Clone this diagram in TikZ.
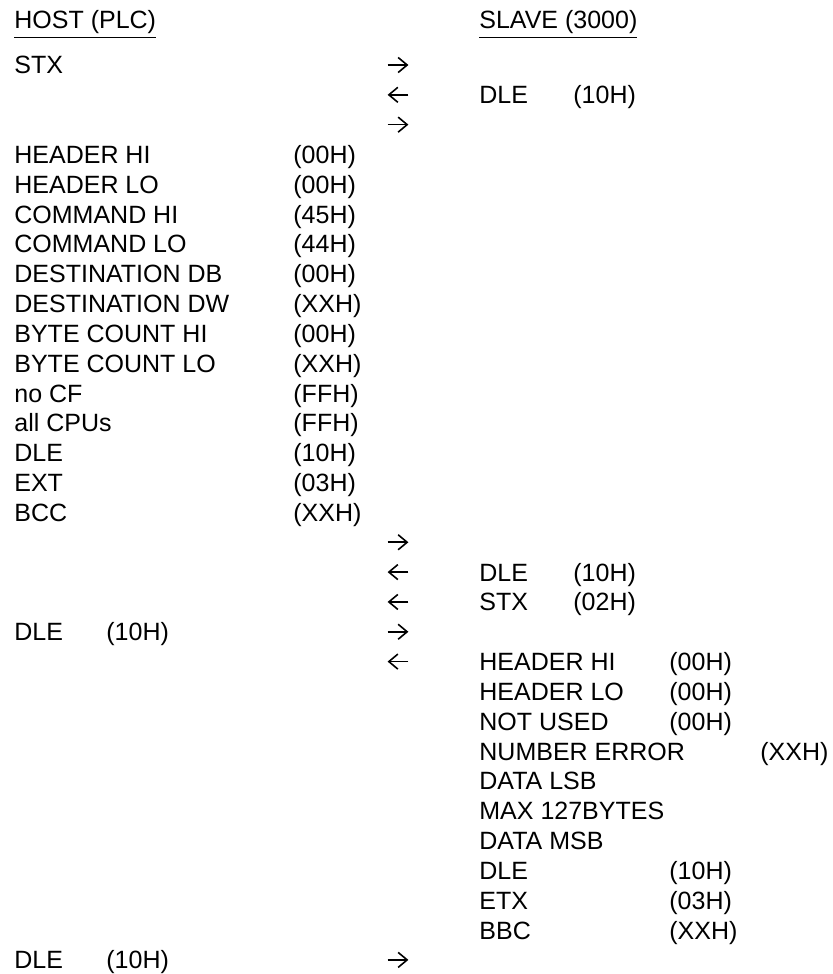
\documentclass[tikz,border=0pt]{standalone}
\usepackage{fontspec}
\setmainfont{Liberation Sans}
\usetikzlibrary{arrows.meta}
\begin{document}
\begin{tikzpicture}[x=0.5pt,y=-0.5pt,
	txt/.style={anchor=base west,inner sep=0pt,font=\fontsize{12.5}{15}\selectfont},
	arrowbox/.style={inner sep=0pt,minimum width=10pt,minimum height=8pt},
	msg/.style={line width=0.8pt,-{Straight Barb[length=4.5pt,width=7.5pt,line width=0.8pt]}}]
	\useasboundingbox (0,0) rectangle (832,974);
	% headings
	\node[txt] (host) at (14,29) {\underline{HOST (PLC)}};
	\node[txt] (slave) at (479,29) {\underline{SLAVE (3000)}};
	% host side
	\node[txt] (hstx) at (14,{74+29.83*0}) {STX};
	\foreach \n/\name/\val in {3/HEADER HI/00H, 4/HEADER LO/00H, 5/COMMAND HI/45H,
		6/COMMAND LO/44H, 7/DESTINATION DB/00H, 8/DESTINATION DW/XXH,
		9/BYTE COUNT HI/00H, 10/BYTE COUNT LO/XXH, 11/no CF/FFH, 12/all CPUs/FFH,
		13/DLE/10H, 14/EXT/03H, 15/BCC/XXH}{
		\node[txt] (hname-\n) at (14,{74+29.83*\n}) {\name};
		\node[txt] (hval-\n) at (293,{74+29.83*\n}) {(\val)};
	}
	\foreach \n in {19,30}{
		\node[txt] (hdle-\n) at (14,{74+29.83*\n}) {DLE};
		\node[txt] (hdleval-\n) at (106,{74+29.83*\n}) {(10H)};
	}
	% arrows
	\foreach \n in {0,2,16,19,30}{
		\node[arrowbox] (right-\n) at (398,{65+29.83*\n}) {};
		\draw[msg] (right-\n.west) -- (right-\n.east);
	}
	\foreach \n in {1,17,18,20}{
		\node[arrowbox] (left-\n) at (398,{65+29.83*\n}) {};
		\draw[msg] (left-\n.east) -- (left-\n.west);
	}
	% slave side
	\foreach \n/\name/\val in {1/DLE/10H, 17/DLE/10H, 18/STX/02H}{
		\node[txt] (sname-\n) at (479,{74+29.83*\n}) {\name};
		\node[txt] (sval-\n) at (573,{74+29.83*\n}) {(\val)};
	}
	\foreach \n/\name/\val in {20/HEADER HI/00H, 21/HEADER LO/00H, 22/NOT USED/00H,
		27/DLE/10H, 28/ETX/03H, 29/BBC/XXH}{
		\node[txt] (sname-\n) at (479,{74+29.83*\n}) {\name};
		\node[txt] (sval-\n) at (669,{74+29.83*\n}) {(\val)};
	}
	\node[txt] (sname-23) at (479,{74+29.83*23}) {NUMBER ERROR};
	\node[txt] (sval-23) at (760,{74+29.83*23}) {(XXH)};
	\foreach \n/\name in {24/DATA LSB, 25/MAX 127BYTES, 26/DATA MSB}
	\node[txt] (sname-\n) at (479,{74+29.83*\n}) {\name};
\end{tikzpicture}
\end{document}
